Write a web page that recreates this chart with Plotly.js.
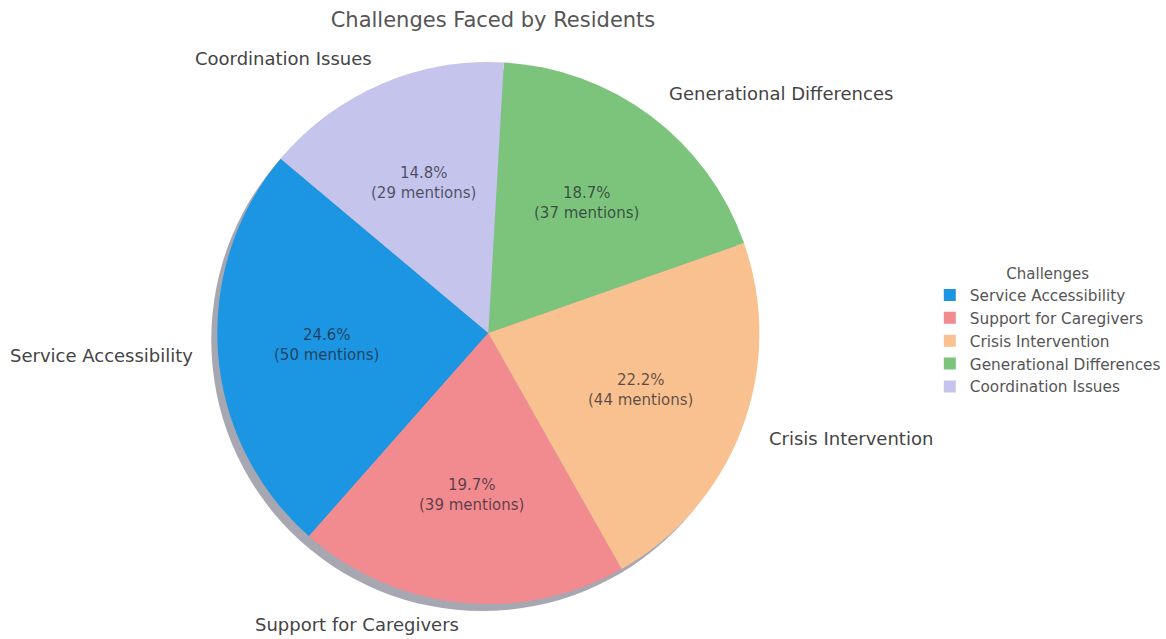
<!DOCTYPE html>
<html>
<head>
<meta charset="utf-8">
<script src="https://cdn.plot.ly/plotly-3.0.1.min.js"></script>
<style>html,body{margin:0;padding:0;background:#fff;}#chart{width:1166px;height:639px;}</style>
</head>
<body>
<div id="chart"></div>
<script>
// ---- data ----
const categories = ["Service Accessibility", "Support for Caregivers", "Crisis Intervention", "Generational Differences", "Coordination Issues"];
const percents = [24.6, 19.7, 22.2, 18.7, 14.8];
const mentions = [50, 39, 44, 37, 29];
const colors = ["#1c96e2", "#f28b8f", "#f9c18f", "#7cc47c", "#c4c4ec"];
const chartTitle = "Challenges Faced by Residents";
const legendTitle = "Challenges";

// ---- geometry (pixels) ----
const W = 1166, H = 639;
const cx = 490, cy = 333, R = 272;
const startDeg = 140; // math angle where first slice starts, counter-clockwise
const shadowDx = -6, shadowDy = 7;

function px2x(x){ return x / W; }
function px2y(y){ return 1 - y / H; }

const total = percents.reduce((a,b)=>a+b,0);
// Plotly (counterclockwise): first slice lies clockwise of 'rotation' (measured clockwise from 12 o'clock)
const plotlyRotation = 90 - startDeg - percents[0]/total*360;

const pieDomain = {x:[px2x(cx-R), px2x(cx+R)], y:[px2y(cy+R), px2y(cy-R)]};
const shadowDomain = {x:[px2x(cx-R+shadowDx), px2x(cx+R+shadowDx)], y:[px2y(cy+R+shadowDy), px2y(cy-R+shadowDy)]};

const shadow = {
  type:'pie', values:[1], labels:['shadow'], showlegend:false, sort:false,
  marker:{colors:['rgba(130,130,145,0.7)'], line:{width:0}},
  textinfo:'none', hoverinfo:'skip', domain:shadowDomain
};

const pie = {
  type:'pie', values:percents, labels:categories, customdata:mentions,
  sort:false, direction:'counterclockwise', rotation:plotlyRotation,
  marker:{colors:colors, line:{width:0}},
  textinfo:'none',
  hovertemplate:'%{label}<br>%{value}%<br>%{customdata} mentions<extra></extra>',
  domain:pieDomain
};

// annotations computed from data angles
const annotations = [];
let acc = startDeg;
percents.forEach((p,i)=>{
  const span = p/total*360;
  const mid = (acc + span/2) * Math.PI/180;
  acc += span;
  const c = Math.cos(mid), s = Math.sin(mid);
  annotations.push({
    xref:'paper', yref:'paper', x:px2x(cx + 0.6*R*c), y:px2y(cy - 0.6*R*s),
    xanchor:'center', yanchor:'middle', showarrow:false,
    text: p.toFixed(1) + '%<br>(' + mentions[i] + ' mentions)',
    font:{family:'DejaVu Sans, sans-serif', size:15, color:'rgba(30,30,45,0.72)'}
  });
  const ly = Math.min(cy - 1.1*R*s, H - 15);
  annotations.push({
    xref:'paper', yref:'paper', x:px2x(cx + 1.1*R*c + (c<0?4:-1)), y:px2y(ly),
    xanchor: c < 0 ? 'right' : 'left', yanchor:'middle', showarrow:false,
    text: categories[i],
    font:{family:'DejaVu Sans, sans-serif', size:18, color:'#444'}
  });
});

const layout = {
  width:W, height:H,
  margin:{l:0, r:0, t:0, b:0},
  paper_bgcolor:'#fff',
  title:{text:chartTitle, x:px2x(493), xanchor:'center', y:px2y(20), yanchor:'middle', yref:'paper',
         font:{family:'DejaVu Sans, sans-serif', size:21, color:'#555'}},
  showlegend:true,
  legend:{
    x:px2x(933), xanchor:'left', y:px2y(331), yanchor:'middle',
    title:{text:legendTitle, side:'top center', font:{family:'DejaVu Sans, sans-serif', size:15, color:'#555'}},
    font:{family:'DejaVu Sans, sans-serif', size:15.3, color:'#555'},
    bgcolor:'rgba(255,255,255,0)', borderwidth:0, traceorder:'normal'
  },
  annotations:annotations
};

Plotly.newPlot('chart', [shadow, pie], layout, {displayModeBar:false, staticPlot:true});
</script>
</body>
</html>
